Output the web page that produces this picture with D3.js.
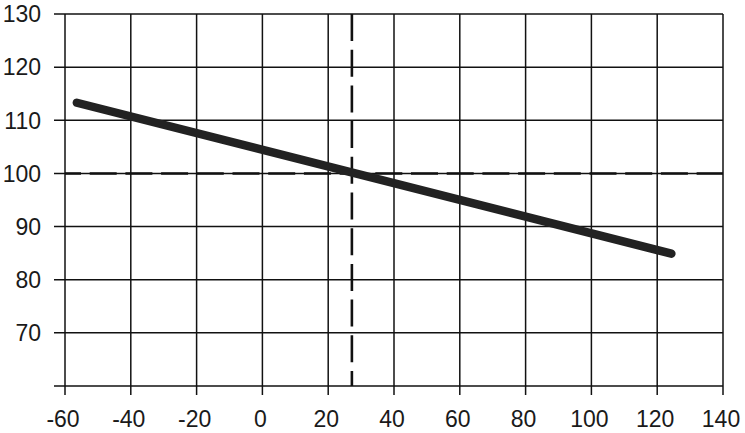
<!DOCTYPE html>
<html><head><meta charset="utf-8">
<script src="https://cdn.jsdelivr.net/npm/d3@7/dist/d3.min.js"></script>
<style>body{margin:0;background:#fff;} svg{display:block;}</style>
</head><body>
<svg id="c" width="745" height="433"></svg>
<script>
const xTicks = [-60,-40,-20,0,20,40,60,80,100,120,140];
const yTicks = [60,70,80,90,100,110,120,130];
const yLabels = ["","70","80","90","100","110","120","130"];
const lineX = [-56.4, 124.3];
const lineY = [113.3, 84.9];
const refX = [27.2];
const refY = [100];

const svg = d3.select("#c");
const L = 65, R = 723, T = 14, B = 386;
const x = d3.scaleLinear().domain([-60,140]).range([L,R]);
const y = d3.scaleLinear().domain([60,130]).range([B,T]);
const font = "Liberation Sans, Arial, Helvetica, sans-serif";

// horizontal gridlines (extend left as ticks)
svg.append("g").selectAll("line").data(yTicks).join("line")
  .attr("x1", L-11).attr("x2", R).attr("y1", d=>y(d)).attr("y2", d=>y(d))
  .attr("stroke","#111").attr("stroke-width",1.5);
// vertical gridlines (extend down as ticks)
svg.append("g").selectAll("line").data(xTicks).join("line")
  .attr("x1", d=>x(d)).attr("x2", d=>x(d)).attr("y1", T).attr("y2", B+9)
  .attr("stroke","#111").attr("stroke-width",1.5);

// y labels
svg.append("g").selectAll("text").data(yTicks).join("text")
  .attr("x", 41).attr("y", d=>y(d)).attr("dy","0.36em")
  .attr("text-anchor","end").attr("font-family",font).attr("font-size",23)
  .attr("fill","#1a1a1a").text((d,i)=>yLabels[i]);
// x labels
svg.append("g").selectAll("text").data(xTicks).join("text")
  .attr("x", d=>x(d)-2).attr("y", 427)
  .attr("text-anchor","middle").attr("font-family",font).attr("font-size",23)
  .attr("fill","#1a1a1a").text(d=>d);

// reference dashed lines
svg.append("g").selectAll("line").data(refY).join("line")
  .attr("x1", L).attr("x2", R).attr("y1", d=>y(d)).attr("y2", d=>y(d))
  .attr("stroke","#111").attr("stroke-width",2.6).attr("stroke-dasharray","27 8.7").attr("stroke-dashoffset",11);
svg.append("g").selectAll("line").data(refX).join("line")
  .attr("x1", d=>x(d)).attr("x2", d=>x(d)).attr("y1", T).attr("y2", B)
  .attr("stroke","#111").attr("stroke-width",2.6).attr("stroke-dasharray","27 8.7");

// main line
const pts = lineX.map((v,i)=>[v, lineY[i]]);
svg.append("path").datum(pts)
  .attr("d", d3.line().x(d=>x(d[0])).y(d=>y(d[1])))
  .attr("fill","none").attr("stroke","#222").attr("stroke-width",8.5)
  .attr("stroke-linecap","round");
</script>
</body></html>
